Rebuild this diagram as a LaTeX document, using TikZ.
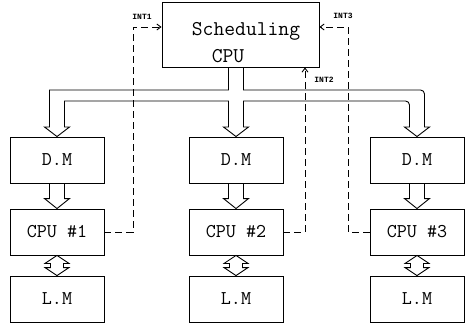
\documentclass[tikz,border=0pt]{standalone}
\usepackage{fontspec}
\newfontfamily\lab{Liberation Mono}
\usetikzlibrary{arrows.meta,calc}
\tikzset{
  box/.style={draw, line width=0.9pt, minimum width=94pt, minimum height=46pt, inner sep=0pt, font=\ttfamily\fontsize{19.5}{22}\selectfont},
  hol/.style={draw, line width=0.9pt, line join=miter},
  intline/.style={draw, line width=0.9pt, dash pattern=on 7pt off 4pt, -{Straight Barb[length=4pt,width=6pt]}},
  intlab/.style={font=\lab\bfseries\fontsize{8}{9}\selectfont, inner sep=0pt}
}
\newcommand\hdown[2]{\draw[hol] ($(#1.south)+(-7.5,0)$) -- ($(#2.north)+(-7.5,-10)$) -- ($(#2.north)+(-12.5,-10)$) -- (#2.north) -- ($(#2.north)+(12.5,-10)$) -- ($(#2.north)+(7.5,-10)$) -- ($(#1.south)+(7.5,0)$);}
\newcommand\hboth[2]{\draw[hol] (#1.south) -- ($(#1.south)+(-12,8)$) -- ($(#1.south)+(-6.5,8)$) -- ($(#2.north)+(-6.5,-8)$) -- ($(#2.north)+(-12,-8)$) -- (#2.north) -- ($(#2.north)+(12,-8)$) -- ($(#2.north)+(6.5,-8)$) -- ($(#1.south)+(6.5,8)$) -- ($(#1.south)+(12,8)$) -- cycle;}
\begin{document}
\begin{tikzpicture}[x=1pt,y=-1pt]
\useasboundingbox (0,0) rectangle (465,324);
% scheduling CPU
\node[draw, line width=0.9pt, minimum width=157pt, minimum height=65pt, inner sep=0pt] (sched) at (240.5,34.5) {};
\node[font=\ttfamily\fontsize{21}{24}\selectfont, inner sep=0pt] (t1) at (246,31) {Scheduling};
\node[font=\ttfamily\fontsize{21}{24}\selectfont, inner sep=0pt] (t2) at (228,56) {CPU};
% columns
\node[box] (dm1) at (57,160) {D.M};
\node[box] (cpu1) at (57,232) {CPU \#1};
\node[box] (lm1) at (57,299) {L.M};
\node[box] (dm2) at (236,160) {D.M};
\node[box] (cpu2) at (236,232) {CPU \#2};
\node[box] (lm2) at (236,299) {L.M};
\node[box] (dm3) at (417,160) {D.M};
\node[box] (cpu3) at (417,232) {CPU \#3};
\node[box] (lm3) at (417,299) {L.M};
% bus
\draw[hol] (228.5,67) -- (228.5,90) -- (49.5,90) -- (49.5,127) -- (44.5,127) -- (dm1.north) -- (69.5,127) -- (64.5,127)
  -- (64.5,101) -- (228.5,101) -- (228.5,127) -- (223.5,127) -- (dm2.north) -- (248.5,127) -- (243.5,127)
  -- (243.5,101) -- (405.5,101) to[out=0,in=90] (409.5,105) -- (409.5,127) -- (404.5,127) -- (dm3.north) -- (429.5,127) -- (424.5,127)
  -- (424.5,94) to[out=90,in=0] (420.5,90) -- (243.5,90) -- (243.5,67);
% internal arrows
\hdown{dm1}{cpu1}
\hdown{dm2}{cpu2}
\hdown{dm3}{cpu3}
\hboth{cpu1}{lm1}
\hboth{cpu2}{lm2}
\hboth{cpu3}{lm3}
% interrupts
\coordinate (i1) at (133,27);
\coordinate (i2) at (305,232);
\coordinate (i3) at (348,27);
\draw[intline] (cpu1.east) -| (i1) -- (i1 -| sched.west);
\draw[intline] (cpu2.east) -- (i2) -- (i2 |- sched.south);
\draw[intline] (cpu3.west) -| (i3) -- (i3 -| sched.east);
\node[intlab] (l1) at (142,17) {INT1};
\node[intlab] (l2) at (324,80) {INT2};
\node[intlab] (l3) at (343,16) {INT3};
\end{tikzpicture}
\end{document}
